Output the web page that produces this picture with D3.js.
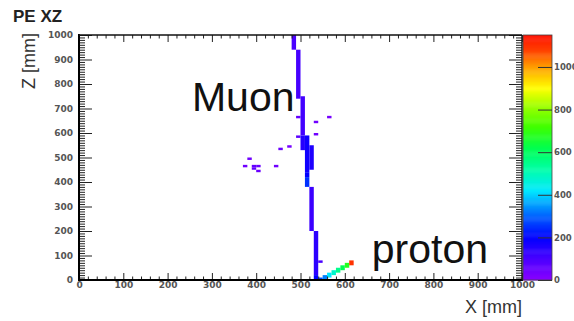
<!DOCTYPE html>
<html>
<head>
<meta charset="utf-8">
<script src="https://cdn.jsdelivr.net/npm/d3@7"></script>
<style>
  html, body { margin: 0; padding: 0; background: #fff; }
  svg { display: block; }
</style>
</head>
<body>
<svg id="chart" width="574" height="321"></svg>
<script>
// ---------------- DATA ----------------
const chartTitle = "PE XZ";
const xTitle = "X [mm]";
const yTitle = "Z [mm]";
const binSize = 10; // mm per cell

const xTicks = [0, 100, 200, 300, 400, 500, 600, 700, 800, 900, 1000];
const yTicks = [0, 100, 200, 300, 400, 500, 600, 700, 800, 900, 1000];
const colorTicks = [0, 200, 400, 600, 800, 1000];
const peMax = 1150;

// Palette stops (PE value -> colour), ROOT rainbow-like palette
const paletteValues = [0, 100, 200, 300, 420, 520, 620, 720, 820, 900, 1000, 1080, 1150];
const paletteColors = ["#8a00ff", "#4a00ff", "#0000ff", "#0060ff", "#00e8ff", "#00ffa8", "#00ff50",
                       "#40ff00", "#a0ff00", "#ffff00", "#ffa000", "#ff4000", "#ff1000"];

// Muon track runs: x bin (mm), z from, z to, PE
const muonX  = [480, 490, 490, 500, 490, 500, 510, 520, 510, 510, 520, 530, 540, 530, 540, 550];
const muonZ0 = [940, 740, 660, 590, 580, 530, 440, 450, 420, 380, 200,  20,  70,   0,   0,   0];
const muonZ1 = [1000, 940, 670, 750, 590, 590, 590, 550, 440, 420, 380, 200,  80,  20,  10,  20];
const muonPE = [100, 105,  60, 110,  70, 150, 180, 160, 200, 250, 120, 140, 100, 200, 280, 330];

// Proton track runs
const protonX  = [560, 570, 580, 590, 600, 610];
const protonZ0 = [10, 20, 30, 40, 50, 60];
const protonZ1 = [30, 40, 50, 60, 70, 80];
const protonPE = [420, 480, 550, 620, 680, 1100];

// Isolated hits (single cells)
const hitX  = [530, 560, 530, 450, 470, 380, 370, 390, 400, 390, 400, 440];
const hitZ  = [640, 660, 590, 530, 540, 490, 460, 460, 460, 450, 440, 460];
const hitPE = [40, 30, 40, 50, 30, 40, 40, 60, 50, 60, 50, 40];

// Annotations
const labelTexts = ["Muon", "proton"];
const labelX = [255, 661];   // data mm (left edge of text)
const labelZ = [690, 70];    // data mm (baseline)

// ---------------- LAYOUT ----------------
const svg = d3.select("#chart");
const plot = { left: 79, right: 522, top: 35, bottom: 280 };
const cbar = { left: 523, right: 552 };

const x = d3.scaleLinear().domain([0, 1000]).range([plot.left, plot.right]);
const y = d3.scaleLinear().domain([0, 1000]).range([plot.bottom, plot.top]);
const zc = d3.scaleLinear().domain([0, peMax]).range([plot.bottom, plot.top]);
const color = d3.scaleLinear().domain(paletteValues).range(paletteColors)
  .interpolate(d3.interpolateRgb).clamp(true);

svg.append("rect").attr("width", 574).attr("height", 321).attr("fill", "#fff");

// ---------------- CELLS ----------------
const cells = [];
muonX.forEach((v, i) => cells.push({ x: v, z0: muonZ0[i], z1: muonZ1[i], pe: muonPE[i] }));
protonX.forEach((v, i) => cells.push({ x: v, z0: protonZ0[i], z1: protonZ1[i], pe: protonPE[i] }));
hitX.forEach((v, i) => cells.push({ x: v, z0: hitZ[i], z1: hitZ[i] + binSize, pe: hitPE[i] }));

svg.append("g").selectAll("rect").data(cells).join("rect")
  .attr("x", d => x(d.x))
  .attr("width", d => x(d.x + binSize) - x(d.x))
  .attr("y", d => y(d.z1))
  .attr("height", d => y(d.z0) - y(d.z1))
  .attr("fill", d => color(d.pe));

// ---------------- AXES ----------------
const labelFont = "DejaVu Sans, sans-serif";
function styleAxis(g, showLabels) {
  g.select(".domain").remove();
  g.selectAll(".tick line").attr("stroke", "#222").attr("stroke-width", 1);
  g.selectAll(".tick text")
    .attr("font-family", labelFont).attr("font-size", 9).attr("font-weight", "bold")
    .attr("fill", "#555");
  if (!showLabels) g.selectAll(".tick text").remove();
}
const xMinor = d3.range(0, 1001, 20).filter(v => v % 100 !== 0);
const yMinor = d3.range(0, 1001, 10).filter(v => v % 100 !== 0);

// bottom
svg.append("g").attr("transform", `translate(0,${plot.bottom})`)
  .call(d3.axisBottom(x).tickValues(xTicks).tickSize(-7).tickPadding(1.5).tickFormat(d3.format("d")))
  .call(g => styleAxis(g, true));
svg.append("g").attr("transform", `translate(0,${plot.bottom})`)
  .call(d3.axisBottom(x).tickValues(xMinor).tickSize(-3.5).tickFormat(""))
  .call(g => styleAxis(g, false));
// top
svg.append("g").attr("transform", `translate(0,${plot.top})`)
  .call(d3.axisTop(x).tickValues(xTicks).tickSize(-7).tickFormat(""))
  .call(g => styleAxis(g, false));
svg.append("g").attr("transform", `translate(0,${plot.top})`)
  .call(d3.axisTop(x).tickValues(xMinor).tickSize(-3.5).tickFormat(""))
  .call(g => styleAxis(g, false));
// left
svg.append("g").attr("transform", `translate(${plot.left},0)`)
  .call(d3.axisLeft(y).tickValues(yTicks).tickSize(-13).tickPadding(6).tickFormat(d3.format("d")))
  .call(g => styleAxis(g, true));
svg.append("g").attr("transform", `translate(${plot.left},0)`)
  .call(d3.axisLeft(y).tickValues(yMinor).tickSize(-6).tickFormat(""))
  .call(g => styleAxis(g, false));
// right
svg.append("g").attr("transform", `translate(${plot.right},0)`)
  .call(d3.axisRight(y).tickValues(yTicks).tickSize(-13).tickFormat(""))
  .call(g => styleAxis(g, false));
svg.append("g").attr("transform", `translate(${plot.right},0)`)
  .call(d3.axisRight(y).tickValues(yMinor).tickSize(-6).tickFormat(""))
  .call(g => styleAxis(g, false));

// frame
svg.append("line").attr("x1", plot.left).attr("x2", plot.left).attr("y1", plot.top - 1).attr("y2", plot.bottom + 1)
  .attr("stroke", "#000").attr("stroke-width", 2);
svg.append("line").attr("x1", plot.left - 1).attr("x2", plot.right + 1).attr("y1", plot.bottom).attr("y2", plot.bottom)
  .attr("stroke", "#000").attr("stroke-width", 2);
svg.append("line").attr("x1", plot.left).attr("x2", plot.right).attr("y1", plot.top).attr("y2", plot.top)
  .attr("stroke", "#111").attr("stroke-width", 1.6);
svg.append("line").attr("x1", plot.right).attr("x2", plot.right).attr("y1", plot.top).attr("y2", plot.bottom)
  .attr("stroke", "#111").attr("stroke-width", 1.4);

// ---------------- COLOUR BAR ----------------
const cbSteps = d3.range(0, peMax, 5);
svg.append("g").selectAll("rect").data(cbSteps).join("rect")
  .attr("x", cbar.left).attr("width", cbar.right - cbar.left)
  .attr("y", d => zc(Math.min(d + 5, peMax)))
  .attr("height", d => zc(d) - zc(Math.min(d + 5, peMax)) + 0.5)
  .attr("fill", d => color(d + 2.5));
svg.append("rect").attr("x", cbar.left).attr("y", plot.top)
  .attr("width", cbar.right - cbar.left).attr("height", plot.bottom - plot.top)
  .attr("fill", "none").attr("stroke", "#444").attr("stroke-width", 0.8);
svg.append("g").attr("transform", `translate(${cbar.right},0)`)
  .call(d3.axisRight(zc).tickValues(colorTicks).tickSize(-14).tickPadding(2).tickFormat(d3.format("d")))
  .call(g => {
    g.select(".domain").remove();
    g.selectAll(".tick line").attr("stroke", "#333").attr("stroke-width", 1);
    g.selectAll(".tick text").attr("font-family", labelFont).attr("font-size", 8.5)
      .attr("font-weight", "bold").attr("fill", "#555");
  });

// ---------------- TEXT ----------------
svg.append("text").attr("x", 13).attr("y", 22).text(chartTitle)
  .attr("font-family", "Liberation Sans, Arial, sans-serif").attr("font-weight", "bold")
  .attr("font-size", 17).attr("fill", "#222");
svg.append("text").attr("x", plot.right).attr("y", 313).attr("text-anchor", "end").text(xTitle)
  .attr("font-family", "Liberation Sans, Arial, sans-serif").attr("font-size", 18).attr("fill", "#333");
svg.append("text").attr("transform", "translate(35,33) rotate(-90)").attr("text-anchor", "end").text(yTitle)
  .attr("font-family", "Liberation Sans, Arial, sans-serif").attr("font-size", 18).attr("fill", "#333");

svg.append("g").selectAll("text").data(labelTexts).join("text")
  .attr("x", (d, i) => x(labelX[i]))
  .attr("y", (d, i) => y(labelZ[i]))
  .text(d => d)
  .attr("font-family", "Liberation Sans, Arial, sans-serif").attr("font-size", 41).attr("fill", "#111");
</script>
</body>
</html>
